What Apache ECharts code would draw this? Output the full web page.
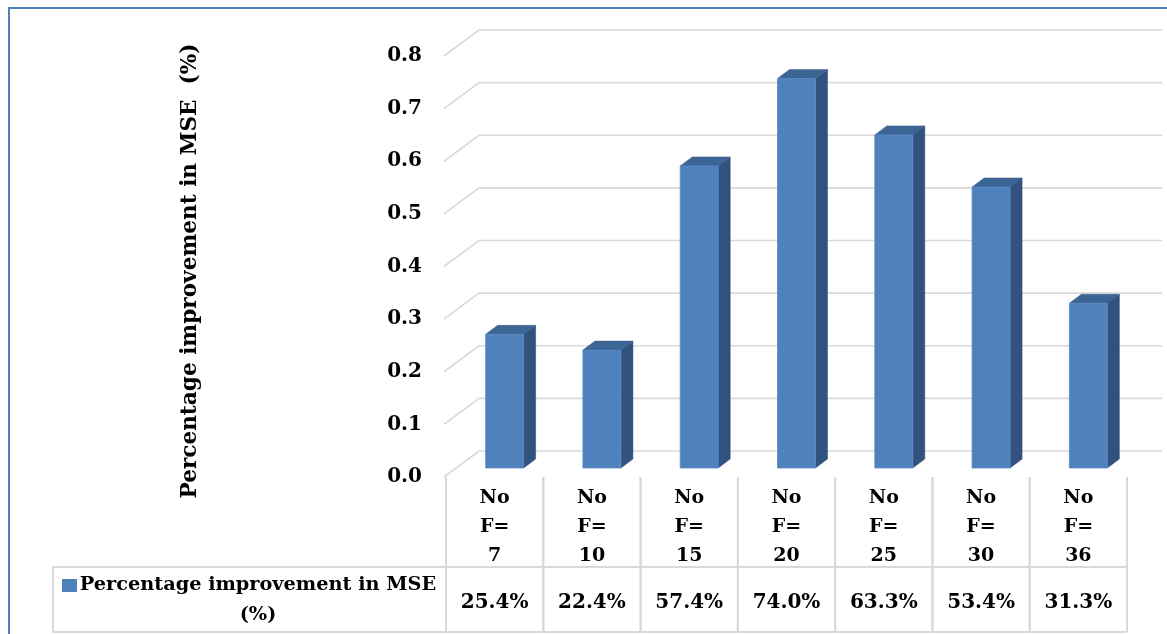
<!DOCTYPE html>
<html>
<head>
<meta charset="utf-8">
<title>Percentage improvement in MSE</title>
<script src="https://cdn.jsdelivr.net/npm/echarts@6/dist/echarts.min.js"></script>
<style>
  html, body { margin: 0; padding: 0; background: #ffffff; }
  #chart { width: 1167px; height: 634px; }
</style>
</head>
<body>
<div id="chart"></div>
<script>
// Feature-count categories and the MSE improvement measured for each
const categories = ['No F= 7', 'No F= 10', 'No F= 15', 'No F= 20', 'No F= 25', 'No F= 30', 'No F= 36'];
const improvement = [0.254, 0.224, 0.574, 0.740, 0.633, 0.534, 0.313];
const yTicks = [0, 0.1, 0.2, 0.3, 0.4, 0.5, 0.6, 0.7, 0.8];
const seriesTitle = 'Percentage improvement in MSE';
const seriesUnit = '(%)';

const FONT = 'DejaVu Serif';
const BLUE = '#4f81bd';
const GRID_GRAY = '#d9d9d9';

// pseudo-3D geometry: depth of the chart floor and of each bar
const WALL_DX = 35, WALL_DY = 26;
const BAR_SHIFT = 10, BAR_BACK = 9, BAR_W = 38, BAR_DX = 12, BAR_DY = 9;
// data-table rows below the plot (offsets from the zero line)
const ROW1_END = 90, ROW2_END = 155, ROW2_MID = 126;

const chart = echarts.init(document.getElementById('chart'), null, { renderer: 'canvas' });

const pct = v => (v * 100).toFixed(1) + '%';

const option = {
  backgroundColor: '#ffffff',
  animation: false,
  grid: { left: 446, right: 40, top: 56, bottom: 157 },
  xAxis: {
    type: 'category',
    data: categories,
    axisLine: { show: false },
    axisTick: { show: false },
    splitLine: { show: false },
    axisLabel: {
      interval: 0,
      margin: 7,
      formatter: s => s.split(' ').join('\n'),
      fontFamily: FONT, fontWeight: 'bold', fontSize: 19, lineHeight: 29, color: '#000'
    }
  },
  yAxis: {
    type: 'value',
    min: 0, max: 0.8, interval: 0.1,
    axisLine: { show: false },
    axisTick: { show: false },
    splitLine: { show: false },
    axisLabel: {
      margin: 24,
      formatter: v => v.toFixed(1),
      fontFamily: FONT, fontWeight: 'bold', fontSize: 20, color: '#000'
    },
    name: seriesTitle + '  ' + seriesUnit,
    nameLocation: 'middle',
    nameRotate: 90,
    nameGap: 245,
    nameTextStyle: { fontFamily: FONT, fontWeight: 'bold', fontSize: 21.6, color: '#000', padding: [0, 9, 0, 0] }
  },
  series: [
    {
      // floor/back-wall gridlines: diagonal from the front edge, then along the back wall
      type: 'custom',
      name: 'walls',
      clip: false,
      silent: true,
      z: 1,
      data: yTicks.map(v => [0, v]),
      renderItem: (params, api) => {
        const v = api.value(1);
        const band = api.size([1, 0])[0];
        const p = api.coord([0, v]);
        const pr = api.coord([categories.length - 1, v]);
        const xl = p[0] - band / 2;
        const xr = pr[0] + band / 2;
        return {
          type: 'polyline',
          shape: { points: [[xl - 2, p[1]], [xl + WALL_DX - 2, p[1] - WALL_DY], [xr + WALL_DX, p[1] - WALL_DY]] },
          style: { stroke: GRID_GRAY, lineWidth: 1.6, fill: 'none' }
        };
      }
    },
    {
      // 3D column for each category
      type: 'custom',
      name: seriesTitle + ' ' + seriesUnit,
      clip: false,
      z: 3,
      data: improvement.map((v, i) => [i, v]),
      renderItem: (params, api) => {
        const i = api.value(0), v = api.value(1);
        const base = api.coord([i, 0]);
        const top = api.coord([i, v]);
        const cx = base[0] + BAR_SHIFT;
        const x0 = cx - BAR_W / 2, x1 = cx + BAR_W / 2;
        const yb = base[1] - BAR_BACK, yt = top[1] - BAR_BACK;
        return {
          type: 'group',
          children: [
            {
              type: 'polygon',
              shape: { points: [[x1, yt], [x1 + BAR_DX, yt - BAR_DY], [x1 + BAR_DX, yb - BAR_DY], [x1, yb]] },
              style: { fill: '#31527e', stroke: '#2c4a72', lineWidth: 0.5 }
            },
            {
              type: 'polygon',
              shape: { points: [[x0, yt], [x0 + BAR_DX, yt - BAR_DY], [x1 + BAR_DX, yt - BAR_DY], [x1, yt]] },
              style: { fill: '#3b6595', stroke: '#365d8a', lineWidth: 0.5 }
            },
            {
              type: 'rect',
              shape: { x: x0, y: yt, width: BAR_W, height: yb - yt },
              style: { fill: BLUE, stroke: '#5a8ac4', lineWidth: 0.8 }
            }
          ]
        };
      }
    },
    {
      // data table: column rules and the value row
      type: 'custom',
      name: 'table',
      clip: false,
      silent: true,
      z: 2,
      data: improvement.map((v, i) => [i, v]),
      renderItem: (params, api) => {
        const i = api.value(0), v = api.value(1);
        const band = api.size([1, 0])[0];
        const base = api.coord([i, 0]);
        const xl = base[0] - band / 2, xr = base[0] + band / 2;
        const y0 = base[1];
        const line = (x1, y1, x2, y2) => ({
          type: 'line',
          shape: { x1, y1, x2, y2 },
          style: { stroke: GRID_GRAY, lineWidth: 2 }
        });
        return {
          type: 'group',
          children: [
            line(xl, y0, xl, y0 + ROW2_END),
            line(xr, y0, xr, y0 + ROW2_END),
            line(xl, y0 + ROW1_END, xr, y0 + ROW1_END),
            line(xl, y0 + ROW2_END, xr, y0 + ROW2_END),
            {
              type: 'text',
              style: {
                x: base[0], y: y0 + ROW2_MID,
                text: pct(v),
                align: 'center', verticalAlign: 'middle',
                fontFamily: FONT, fontWeight: 'bold', fontSize: 20, fill: '#000'
              }
            }
          ]
        };
      }
    }
  ],
  graphic: [
    // outer frame
    {
      type: 'polyline',
      shape: { points: [[9, 634], [9, 8], [1167, 8]] },
      style: { stroke: BLUE, lineWidth: 2, fill: 'none' },
      z: 10
    },
    // legend cell of the data table
    {
      type: 'polyline',
      shape: { points: [[446, 567], [53, 567], [53, 632], [446, 632]] },
      style: { stroke: GRID_GRAY, lineWidth: 2, fill: 'none' }
    },
    {
      type: 'rect',
      shape: { x: 62, y: 579, width: 15, height: 13 },
      style: { fill: BLUE }
    },
    {
      type: 'text',
      style: {
        x: 258, y: 600,
        text: seriesTitle + '\n' + seriesUnit,
        align: 'center', verticalAlign: 'middle', lineHeight: 30,
        fontFamily: FONT, fontWeight: 'bold', fontSize: 19.3, fill: '#000'
      }
    }
  ]
};

chart.setOption(option);
</script>
</body>
</html>
